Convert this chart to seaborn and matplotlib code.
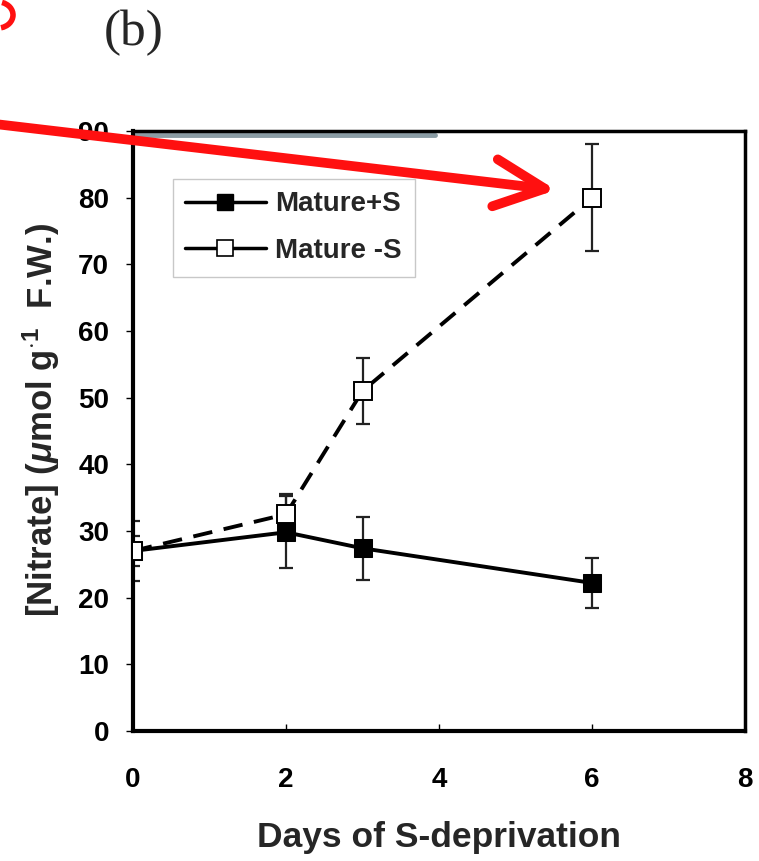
import numpy as np
import pandas as pd
import matplotlib
matplotlib.use("Agg")
import matplotlib.pyplot as plt
import seaborn as sns
from matplotlib.patches import Arc, FancyArrowPatch
from matplotlib.lines import Line2D

days_plus = [0, 2, 3, 6]
nitrate_plus = [27.0, 29.8, 27.4, 22.2]
err_plus = [4.5, 5.4, 4.7, 3.8]

days_minus = [0, 2, 3, 6]
nitrate_minus = [27.0, 32.5, 51.0, 80.0]
err_minus = [2.3, 3.0, 5.0, 8.0]

labels = ["Mature+S", "Mature -S"]
xticks = [0, 2, 4, 6, 8]
yticks = list(range(0, 91, 10))

sns.set_theme(style="white")
plt.rcParams['font.family'] = ['Liberation Sans', 'DejaVu Sans']
plt.rcParams['font.weight'] = 'bold'
plt.rcParams['mathtext.fontset'] = 'custom'
plt.rcParams['mathtext.rm'] = 'Liberation Sans:bold'
plt.rcParams['mathtext.it'] = 'Liberation Sans:bold:italic'
plt.rcParams['mathtext.bf'] = 'Liberation Sans:bold'

df = pd.DataFrame({
    "day": days_plus + days_minus,
    "nitrate": nitrate_plus + nitrate_minus,
    "series": [labels[0]] * len(days_plus) + [labels[1]] * len(days_minus),
})

fig = plt.figure(figsize=(7.59, 8.61), dpi=100)
ax = fig.add_axes([0.175, 0.151, 0.807, 0.697])

# error bars
for xs, ys, es in [(days_plus, nitrate_plus, err_plus), (days_minus, nitrate_minus, err_minus)]:
    ax.errorbar(xs, ys, yerr=es, fmt='none', ecolor='#222222',
                elinewidth=1.6, capsize=5, capthick=1.6, zorder=2)

sns.lineplot(data=df, x="day", y="nitrate", hue="series", style="series",
             palette={labels[0]: "black", labels[1]: "black"},
             dashes={labels[0]: "", labels[1]: (5, 3)},
             markers={labels[0]: "s", labels[1]: "s"},
             markersize=13, linewidth=2.8, ax=ax, legend=False, zorder=3)
for ln in ax.get_lines():
    if ln.get_marker() == 's':
        if ln.get_linestyle() != '-':
            ln.set_markerfacecolor('white')
            ln.set_markeredgecolor('black')
            ln.set_markeredgewidth(1.4)
        else:
            ln.set_markerfacecolor('black')
            ln.set_markeredgecolor('black')

ax.set_xlim(0, 8)
ax.set_ylim(0, 90)
ax.set_xticks(xticks)
ax.set_yticks(yticks)
ax.set_xticklabels([str(v) for v in xticks], fontsize=20, fontweight='bold')
ax.set_yticklabels([str(v) for v in yticks], fontsize=20, fontweight='bold')
ax.tick_params(axis='y', direction='out', length=5, width=1, pad=12, left=True, colors='black')
ax.tick_params(axis='x', direction='in', length=5, width=1, pad=26, bottom=True, colors='black')

for side, lw in [("left", 3), ("bottom", 3), ("top", 2.5), ("right", 2.5)]:
    ax.spines[side].set_visible(True)
    ax.spines[side].set_color('black')
    ax.spines[side].set_linewidth(lw)

ax.set_xlabel("Days of S-deprivation", fontsize=25.5, fontweight='bold', labelpad=20)
ax.set_ylabel(r"[Nitrate] ($\mu$mol g$^{\mathbf{\cdot 1}}$  F.W.)", fontsize=25,
              fontweight='bold')
ax.yaxis.set_label_coords(-0.115, 0.518)

# gray scan artifact at top
ax.plot([0.02, 3.95], [89.4, 89.4], color='#8a9ca4', linewidth=3.5, clip_on=False, zorder=1)

# legend
handles = [
    Line2D([], [], color='black', linewidth=2.5, marker='s', markersize=11,
           markerfacecolor='black', markeredgecolor='black'),
    Line2D([], [], color='black', linewidth=2.5, marker='s', markersize=11,
           markerfacecolor='white', markeredgecolor='black', markeredgewidth=1.2),
]
leg = ax.legend(handles, labels, loc='upper left', bbox_to_anchor=(0.065, 0.92),
                frameon=True, fancybox=False, edgecolor='#bbbbbb', handlelength=2.9,
                handletextpad=0.35, borderaxespad=0,
                prop={'family': 'Liberation Sans', 'weight': 'bold', 'size': 20},
                borderpad=0.45, labelspacing=0.75)
leg.get_frame().set_linewidth(1.0)

# (b) label
fig.text(0.137, 0.962, "(b)", fontsize=37, family='Liberation Serif', fontweight='normal',
         ha='left', va='center')

# red arrow annotation
W, H = 759, 861
fig.add_artist(FancyArrowPatch(
    posA=(-5 / W, 1 - 124 / H), posB=(556 / W, 1 - 190 / H), transform=fig.transFigure,
    arrowstyle='->,head_length=3.6,head_width=1.7', mutation_scale=10,
    color='#ff1010', linewidth=7, capstyle='round', joinstyle='round',
    shrinkA=0, shrinkB=0, zorder=10))
fig.add_artist(Arc((-2 / W, 1 - 15 / H), 30 / W, 26 / H, theta1=-75, theta2=70,
                   transform=fig.transFigure, color='#ff1010', linewidth=4))

fig.savefig("out.png", dpi=100)
